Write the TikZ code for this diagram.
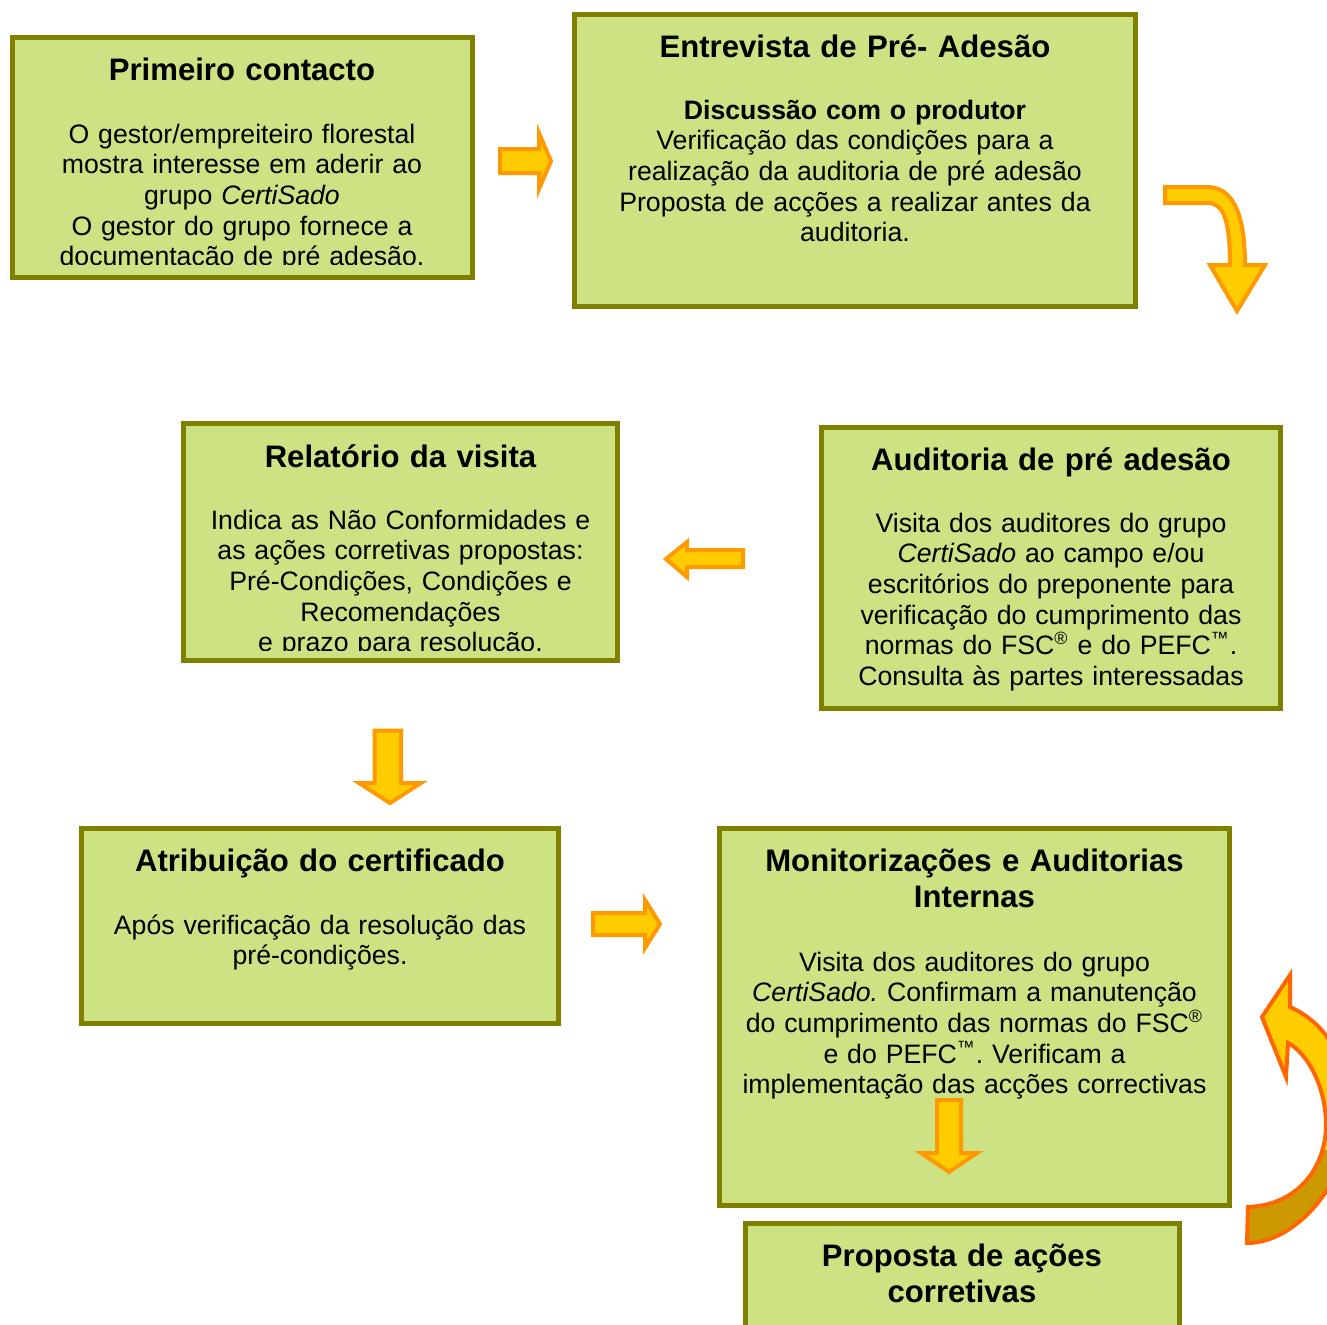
\documentclass[tikz,border=0pt]{standalone}
\usepackage{fontspec}
\setmainfont{Liberation Sans}
\usetikzlibrary{fit}
\frenchspacing
\definecolor{boxfill}{RGB}{205,227,131}
\definecolor{boxline}{RGB}{128,128,0}
\definecolor{arrfill}{RGB}{255,204,0}
\definecolor{arrline}{RGB}{255,153,0}
\definecolor{carrline}{RGB}{255,102,0}
\definecolor{carrdark}{RGB}{204,153,0}
\newcommand{\tmsign}{\textsuperscript{™}}
\newcommand{\regsign}{\textsuperscript{®}}
\tikzset{
  boxnode/.style={draw=boxline, fill=boxfill, line width=2.25pt, inner sep=0pt, rectangle},
  ttl/.style={font=\fontsize{14}{16.5}\selectfont\bfseries\frenchspacing, anchor=base, inner sep=0pt, text width=260pt, align=center},
  bodytext/.style={font=\fontsize{12}{13.8}\selectfont\frenchspacing, anchor=base, inner sep=0pt, text width=260pt, align=center},
  blockarrow/.style={draw=arrline, fill=arrfill, line width=1.8pt, line join=miter},
  carrowshape/.style={insert path={(1247,1243) .. controls (1300,1243) and (1350,1175) .. (1350,1120)
      .. controls (1350,1065) and (1330,1025) .. (1290,1007) -- (1290,975) -- (1262,1017) -- (1286,1077)
      -- (1288,1043) .. controls (1306,1052) and (1326,1085) .. (1326,1125)
      .. controls (1326,1165) and (1300,1205) .. (1248,1207) -- cycle}},
}
\begin{document}
\begin{tikzpicture}[x=0.45pt, y=-0.45pt]
\useasboundingbox (0,0) rectangle (1327,1325);
\clip (0,0) rectangle (1327,1325);
\fill[white] (0,0) rectangle (1327,1325);

% Box 1
\node[boxnode, fit={(12.5,37.5) (472.5,277.5)}] (b1) {};
\begin{scope}
\clip (15,40) rectangle (470,264);
\node[ttl] (t1) at (242,80) {Primeiro contacto};
\node[bodytext] (d1) at (242,143) {O gestor/empreiteiro florestal\\mostra interesse em aderir ao\\grupo \textit{CertiSado}\\O gestor do grupo fornece a\\documentação de pré adesão.};
\end{scope}

% Box 2
\node[boxnode, fit={(574.5,14.5) (1135.5,306.5)}] (b2) {};
\node[ttl] (t2) at (855,57) {Entrevista de Pré- Adesão};
\node[bodytext] (d2) at (855,119) {\textbf{Discussão com o produtor}\\Verificação das condições para a\\realização da auditoria de pré adesão\\Proposta de acções a realizar antes da\\auditoria.};

% Box 3
\node[boxnode, fit={(183.5,423.5) (617.5,660.5)}] (b3) {};
\begin{scope}
\clip (186,426) rectangle (615,650);
\node[ttl] (t3) at (400.5,467) {Relatório da visita};
\node[bodytext] (d3) at (400.5,529) {Indica as Não Conformidades e\\as ações corretivas propostas:\\Pré-Condições, Condições e\\Recomendações\\e prazo para resolução.};
\end{scope}

% Box 4
\node[boxnode, fit={(821.5,427.5) (1280.5,708.5)}] (b4) {};
\node[ttl] (t4) at (1051,470) {Auditoria de pré adesão};
\node[bodytext] (d4) at (1051,532) {Visita dos auditores do grupo\\\textit{CertiSado} ao campo e/ou\\escritórios do preponente para\\verificação do cumprimento das\\normas do FSC\regsign{} e do PEFC\tmsign.\\Consulta às partes interessadas};

% Box 5
\node[boxnode, fit={(81.5,828.5) (558.5,1023.5)}] (b5) {};
\node[ttl] (t5) at (320,871) {Atribuição do certificado};
\node[bodytext] (d5) at (320,934) {Após verificação da resolução das\\pré-condições.};

% Box 6
\node[boxnode, fit={(719.5,828.5) (1229.5,1205.5)}] (b6) {};
\node[ttl] (t6) at (974.5,871) {Monitorizações e Auditorias\\Internas};
\node[bodytext] (d6) at (974.5,971) {Visita dos auditores do grupo\\\textit{CertiSado.} Confirmam a manutenção\\do cumprimento das normas do FSC\regsign\\e do PEFC\tmsign. Verificam a\\implementação das acções correctivas};

% Box 7
\node[boxnode, fit={(745.5,1223) (1179,1380)}] (b7) {};
\node[ttl] (t7) at (962,1266) {Proposta de ações\\corretivas};

% Block arrows
\draw[blockarrow] (500,149) -- (539,149) -- (539,133) -- (551,161) -- (539,189) -- (539,173) -- (500,173) -- cycle;
\draw[blockarrow] (1165,187) -- (1207,187) .. controls (1232,187) and (1245,212) .. (1245,265)
  -- (1265,265) -- (1237,311) -- (1210,265) -- (1230,265) .. controls (1230,222) and (1224,203) .. (1208,203)
  -- (1165,203) -- cycle;
\draw[blockarrow] (743,550) -- (687,550) -- (687,542) -- (666,559) -- (687,577) -- (687,567) -- (743,567) -- cycle;
\draw[blockarrow] (374.5,730.5) -- (401,730.5) -- (401,783) -- (421,783) -- (390,803) -- (359,783) -- (374.5,783) -- cycle;
\draw[blockarrow] (593,913) -- (645,913) -- (645,900) -- (660,924) -- (645,948) -- (645,935) -- (593,935) -- cycle;
\draw[blockarrow] (937,1100) -- (961,1100) -- (961,1153) -- (977,1153) -- (949,1172) -- (921,1153) -- (937,1153) -- cycle;

% Curved arrow
\path[fill=arrfill, carrowshape];
\begin{scope}
\clip[carrowshape];
\fill[carrdark] (1200,1150) rectangle (1400,1300);
\end{scope}
\draw[carrline, line width=1.8pt, line join=miter, carrowshape];
\end{tikzpicture}
\end{document}
